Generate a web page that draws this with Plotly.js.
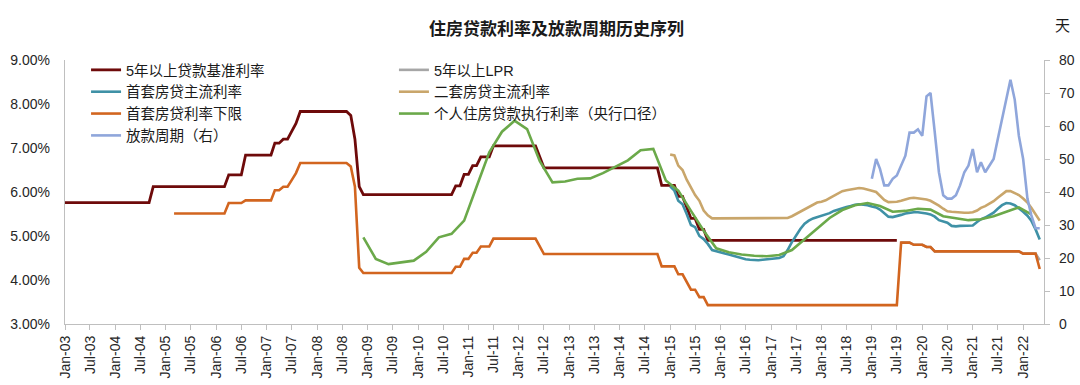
<!DOCTYPE html>
<html>
<head>
<meta charset="utf-8">
<script src="https://cdn.plot.ly/plotly-3.0.1.min.js"></script>
<style>html,body{margin:0;padding:0;background:#fff;}#chart{width:1080px;height:385px;}</style>
</head>
<body>
<div id="chart"></div>
<script>
// ---------- data ----------
// 5年以上贷款基准利率 (change points, monthly)
const benchDates = ['2003-01','2004-09','2004-10','2006-03','2006-04','2006-07','2006-08','2007-02','2007-03','2007-04','2007-05','2007-06','2007-07','2007-08','2007-09','2008-08','2008-09','2008-10','2008-11','2008-12','2010-09','2010-10','2010-11','2010-12','2011-01','2011-02','2011-03','2011-04','2011-06','2011-07','2012-05','2012-06','2012-07','2014-10','2014-11','2015-02','2015-03','2015-04','2015-05','2015-06','2015-07','2015-08','2015-09','2015-10','2019-07'];
const benchVals  = [5.76,5.76,6.12,6.12,6.39,6.39,6.84,6.84,7.11,7.11,7.20,7.20,7.38,7.56,7.83,7.83,7.74,7.20,6.12,5.94,5.94,6.14,6.14,6.40,6.40,6.60,6.60,6.80,6.80,7.05,7.05,6.80,6.55,6.55,6.15,6.15,5.90,5.90,5.65,5.40,5.40,5.15,5.15,4.90,4.90];

// 5年以上LPR
const lprDates = ['2019-08','2019-10','2019-11','2020-01','2020-02','2020-03','2020-04','2021-12','2022-01','2022-04','2022-05'];
const lprVals  = [4.85,4.85,4.80,4.80,4.75,4.75,4.65,4.65,4.60,4.60,4.45];

// 首套房贷主流利率 (monthly, 2015-01 .. 2022-05)
const firstMainStart = '2015-01';
const firstMainVals = [
  6.13,6.03,5.80,5.72,5.50,5.25,5.20,5.00,4.93,4.82,4.68,4.65,
  4.62,4.60,4.58,4.55,4.52,4.49,4.47,4.46,4.45,4.45,4.46,4.47,
  4.48,4.49,4.50,4.54,4.68,4.86,5.02,5.16,5.28,5.35,5.40,5.43,
  5.45,5.48,5.52,5.57,5.60,5.64,5.66,5.68,5.71,5.72,5.71,5.70,
  5.67,5.65,5.60,5.52,5.44,5.43,5.45,5.48,5.51,5.53,5.54,5.54,
  5.53,5.51,5.49,5.44,5.36,5.33,5.30,5.23,5.22,5.23,5.23,5.23,
  5.24,5.32,5.38,5.42,5.48,5.53,5.62,5.70,5.75,5.74,5.70,5.63,
  5.55,5.46,5.35,5.15,4.92];

// 二套房贷主流利率 (monthly, 2015-01 .. 2022-05)
const secondMainStart = '2015-01';
const secondMainVals = [
  6.85,6.83,6.60,6.50,6.28,6.10,5.93,5.80,5.58,5.47,5.40,5.40,
  5.40,5.40,5.40,5.40,5.40,5.40,5.40,5.40,5.40,5.40,5.40,5.40,
  5.40,5.41,5.41,5.40,5.41,5.45,5.50,5.57,5.62,5.67,5.72,5.76,
  5.78,5.81,5.86,5.92,5.98,6.02,6.04,6.06,6.08,6.09,6.08,6.06,
  6.03,6.00,5.92,5.82,5.77,5.77,5.78,5.80,5.83,5.86,5.87,5.86,
  5.85,5.83,5.80,5.75,5.69,5.62,5.56,5.55,5.54,5.54,5.53,5.53,
  5.54,5.58,5.64,5.68,5.73,5.79,5.87,5.95,6.02,6.02,5.98,5.93,
  5.85,5.76,5.64,5.50,5.35];

// 首套房贷利率下限 (change points, monthly)
const floorDates = ['2005-03','2006-03','2006-04','2006-07','2006-08','2007-02','2007-03','2007-04','2007-05','2007-06','2007-07','2007-08','2007-09','2008-08','2008-09','2008-10','2008-11','2008-12','2010-09','2010-10','2010-11','2010-12','2011-01','2011-02','2011-03','2011-04','2011-06','2011-07','2012-05','2012-06','2012-07','2014-10','2014-11','2015-02','2015-03','2015-04','2015-05','2015-06','2015-07','2015-08','2015-09','2015-10','2019-07','2019-08','2019-10','2019-11','2020-01','2020-02','2020-03','2020-04','2021-12','2022-01','2022-04','2022-05'];
const floorVals  = [5.51,5.51,5.75,5.75,5.81,5.81,6.04,6.04,6.12,6.12,6.27,6.43,6.66,6.66,6.58,6.12,4.28,4.16,4.16,4.30,4.30,4.48,4.48,4.62,4.62,4.76,4.76,4.94,4.94,4.76,4.59,4.59,4.31,4.31,4.13,4.13,3.96,3.78,3.78,3.61,3.61,3.43,3.43,4.85,4.85,4.80,4.80,4.75,4.75,4.65,4.65,4.60,4.60,4.25];

// 个人住房贷款执行利率（央行口径）(quarterly)
const pbocDates = ['2008-12','2009-03','2009-06','2009-09','2009-12','2010-03','2010-06','2010-09','2010-12','2011-03','2011-06','2011-09','2011-12','2012-03','2012-06','2012-09','2012-12','2013-03','2013-06','2013-09','2013-12','2014-03','2014-06','2014-09','2014-12','2015-03','2015-06','2015-09','2015-12','2016-03','2016-06','2016-09','2016-12','2017-03','2017-06','2017-09','2017-12','2018-03','2018-06','2018-09','2018-12','2019-03','2019-06','2019-09','2019-12','2020-03','2020-06','2020-09','2020-12','2021-03','2021-06','2021-09','2021-12','2022-03'];
const pbocVals  = [4.97,4.48,4.36,4.40,4.44,4.64,4.97,5.05,5.35,6.12,6.90,7.37,7.62,7.43,6.70,6.22,6.24,6.30,6.31,6.43,6.58,6.72,6.95,6.98,6.26,6.03,5.57,5.12,4.72,4.63,4.58,4.55,4.54,4.57,4.68,4.93,5.17,5.41,5.59,5.70,5.75,5.68,5.55,5.57,5.62,5.60,5.45,5.40,5.36,5.38,5.45,5.55,5.65,5.49];

// 放款周期（右, 天）(monthly, 2019-01 .. 2022-05)
const cycleStart = '2019-01';
const cycleVals = [44,50,47,42,42,44,45,48,51,58,58,59,
                   57,69,70,58,46,39,38,38,39,42,46,48,
                   53,46,49,46,48,50,56,62,68,74,68,57,
                   50,38,33,29,29];

const seriesNames = ['5年以上贷款基准利率','5年以上LPR','首套房贷主流利率','二套房贷主流利率','首套房贷利率下限','个人住房贷款执行利率（央行口径）','放款周期（右）'];
const seriesColors = ['#6E0A0A','#A6A6A6','#3F91A6','#C9A66B','#D2651F','#6BA94A','#8FA6DB'];

// ---------- helpers ----------
function monthSeq(start, n) {
  const [y0, m0] = start.split('-').map(Number);
  const out = [];
  for (let i = 0; i < n; i++) {
    const t = (m0 - 1) + i;
    const y = y0 + Math.floor(t / 12);
    const m = (t % 12) + 1;
    out.push(y + '-' + String(m).padStart(2, '0'));
  }
  return out;
}

const latin = 'Liberation Sans, Arial, Noto Sans CJK SC, sans-serif';
const cjk = 'Liberation Sans, Noto Sans CJK SC, sans-serif';

function mk(i, x, y, extra) {
  return Object.assign({
    type: 'scatter', mode: 'lines', name: seriesNames[i], x: x, y: y,
    line: {color: seriesColors[i], width: 2.6},
    legend: (i === 0 || i === 2 || i === 4 || i === 6) ? 'legend' : 'legend2',
    hoverinfo: 'skip'
  }, extra || {});
}

const traces = [
  mk(0, benchDates, benchVals, {line: {color: seriesColors[0], width: 2.8}}),
  mk(1, lprDates, lprVals),
  mk(2, monthSeq(firstMainStart, firstMainVals.length), firstMainVals),
  mk(3, monthSeq(secondMainStart, secondMainVals.length), secondMainVals),
  mk(4, floorDates, floorVals),
  mk(5, pbocDates, pbocVals),
  mk(6, monthSeq(cycleStart, cycleVals.length), cycleVals, {yaxis: 'y2'})
];

const legendCommon = {
  orientation: 'v', bgcolor: 'rgba(0,0,0,0)', borderwidth: 0,
  font: {family: cjk, size: 14.5, color: '#1a1a1a'},
  yanchor: 'top', xanchor: 'left', y: 1.023, traceorder: 'normal',
  itemclick: false, itemdoubleclick: false
};

const layout = {
  width: 1080, height: 385,
  margin: {l: 65, r: 36, t: 60, b: 61, pad: 0},
  paper_bgcolor: '#ffffff', plot_bgcolor: '#ffffff',
  showlegend: true,
  title: {
    text: '<b>住房贷款利率及放款周期历史序列</b>',
    font: {family: 'Noto Sans CJK SC, sans-serif', size: 17, color: '#1a1a1a'},
    x: 0.502, xanchor: 'center', y: 0.925, yanchor: 'middle', xref: 'paper'
  },
  legend: Object.assign({}, legendCommon, {x: 0.0215}),
  legend2: Object.assign({}, legendCommon, {x: 0.336}),
  xaxis: {
    type: 'date', range: ['2003-01-01', '2022-06-01'],
    tick0: '2003-01-01', dtick: 'M6', tickformat: '%b-%y', tickangle: -90,
    ticks: 'outside', ticklen: 5, tickcolor: '#BFBFBF', tickwidth: 1,
    showline: true, linecolor: '#BFBFBF', linewidth: 1.2,
    showgrid: false, zeroline: false,
    tickfont: {family: latin, size: 14, color: '#262626'}
  },
  yaxis: {
    range: [3, 9], dtick: 1, tick0: 3, tickformat: '.2f', ticksuffix: '%',
    ticks: '', showline: true, linecolor: '#BFBFBF', linewidth: 1.2,
    showgrid: false, zeroline: false, ticklabelstandoff: 11,
    tickfont: {family: latin, size: 14, color: '#262626'}
  },
  yaxis2: {
    overlaying: 'y', side: 'right', range: [0, 80], dtick: 10, tick0: 0,
    ticks: 'outside', ticklen: 5, tickcolor: '#BFBFBF',
    showline: true, linecolor: '#BFBFBF', linewidth: 1.2,
    showgrid: false, zeroline: false, ticklabelstandoff: 6,
    tickfont: {family: latin, size: 14, color: '#262626'}
  },
  annotations: [{
    text: '天', xref: 'paper', yref: 'paper', x: 1.0184, y: 1.1326,
    xanchor: 'center', yanchor: 'middle', showarrow: false,
    font: {family: 'Noto Sans CJK SC, sans-serif', size: 15, color: '#1a1a1a'}
  }]
};

Plotly.newPlot('chart', traces, layout, {staticPlot: true, displayModeBar: false});
</script>
</body>
</html>
